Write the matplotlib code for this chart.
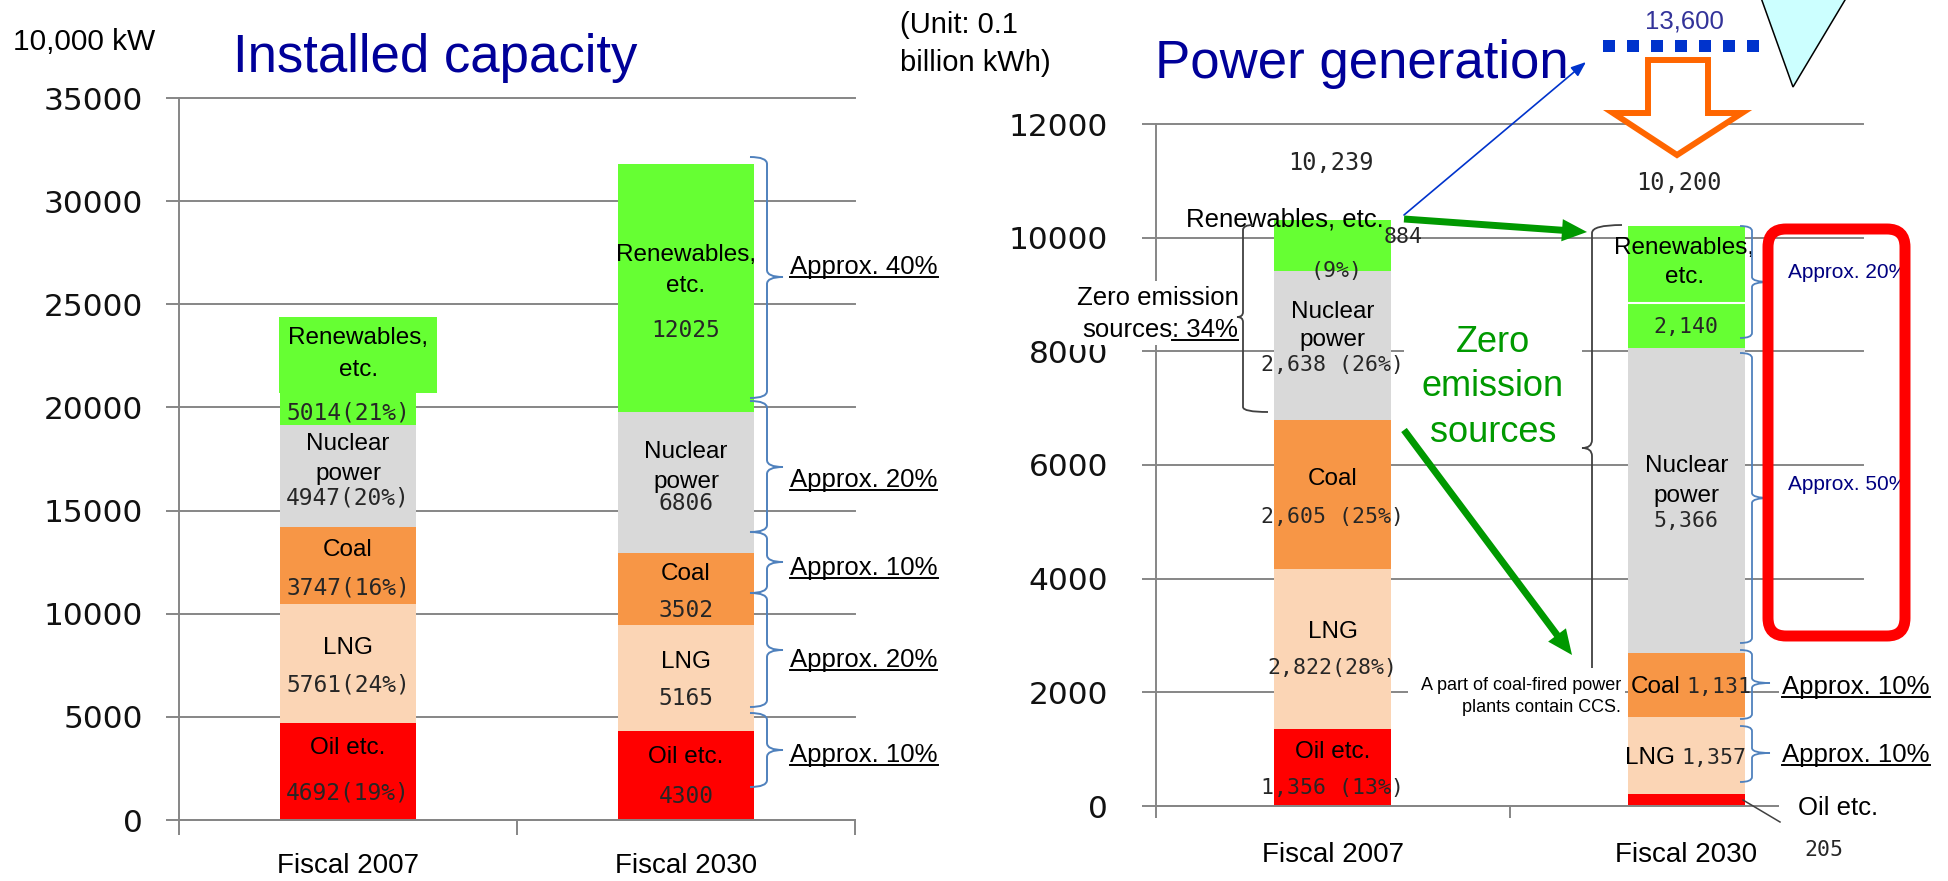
import numpy as np
import matplotlib
matplotlib.use("Agg")
import matplotlib.pyplot as plt
import matplotlib.transforms as mtransforms
from matplotlib.patches import Rectangle, Polygon, FancyBboxPatch, PathPatch, FancyArrowPatch, ArrowStyle
from matplotlib.path import Path
from matplotlib.lines import Line2D

# ---------------- data ----------------
categories = ["Fiscal 2007", "Fiscal 2030"]
source_names = ["Oil etc.", "LNG", "Coal", "Nuclear power", "Renewables, etc."]
source_colors = ["#FF0000", "#FBD5B5", "#F79646", "#D9D9D9", "#66FF33"]

# Installed capacity (10,000 kW)
cap_oil = [4692, 4300]
cap_lng = [5761, 5165]
cap_coal = [3747, 3502]
cap_nuclear = [4947, 6806]
cap_renew = [5014, 12025]
cap_labels_2007 = ["4692(19%)", "5761(24%)", "3747(16%)", "4947(20%)", "5014(21%)"]
cap_labels_2030 = ["4300", "5165", "3502", "6806", "12025"]
cap_ticks = [0, 5000, 10000, 15000, 20000, 25000, 30000, 35000]
cap_shares_2030 = ["Approx. 40%", "Approx. 20%", "Approx. 10%", "Approx. 20%", "Approx. 10%"]

# Power generation (0.1 billion kWh)
gen_oil = [1356, 205]
gen_lng = [2822, 1357]
gen_coal = [2605, 1131]
gen_nuclear = [2638, 5366]
gen_renew = [884, 2140]
gen_totals = ["10,239", "10,200"]
gen_labels_2007 = ["1,356 (13%)", "2,822(28%)", "2,605 (25%)", "2,638 (26%)", "884", "(9%)"]
gen_labels_2030 = ["205", "1,357", "1,131", "5,366", "2,140"]
gen_ticks = [0, 2000, 4000, 6000, 8000, 10000, 12000]
gen_shares_2030 = ["Approx. 20%", "Approx. 50%", "Approx. 10%", "Approx. 10%"]
target_2030 = "13,600"

# ---------------- style ----------------
W, H, DPI = 1948, 881, 100
SANS = "Liberation Sans"
MONO = "DejaVu Sans Mono"
TICKF = "DejaVu Sans"
GRID = "#868686"
NAVY = "#000099"
BRACE = "#4F81BD"
DARK = "#404040"
GREEN = "#009900"
VALC = "#262626"

fig = plt.figure(figsize=(W / DPI, H / DPI), dpi=DPI)
fig.patch.set_facecolor("white")
# pixel transform (x right, y down) in figure space
PX = mtransforms.Affine2D().scale(1.0 / W, -1.0 / H).translate(0, 1) + fig.transFigure

ax1 = fig.add_axes([179 / W, 1 - 820 / H, 676 / W, 722 / H])
ax2 = fig.add_axes([1156 / W, 1 - 806 / H, 707 / W, 682 / H])


def style_axes(ax, ticks, ytick_len, ytick_pad, xlab_pad, xminor_len):
    ax.set_xlim(-0.5, 1.5)
    ax.set_ylim(ticks[0], ticks[-1])
    for s in ("top", "right"):
        ax.spines[s].set_visible(False)
    for s in ("left", "bottom"):
        ax.spines[s].set_color(GRID)
        ax.spines[s].set_linewidth(1.4)
    ax.set_yticks(ticks)
    ax.set_yticklabels([str(t) for t in ticks], fontsize=22.5, fontfamily=TICKF, color="#111111")
    ax.tick_params(axis="y", length=ytick_len * 0.72, width=1.4, color=GRID, pad=ytick_pad * 0.72)
    ax.yaxis.grid(True, color=GRID, linewidth=1.4)
    for gl in ax.get_ygridlines():
        gl.set_clip_on(False)
    ax.set_axisbelow(True)
    ax.set_xticks([0, 1])
    ax.set_xticklabels(categories, fontsize=20, fontfamily=SANS, color="black")
    ax.tick_params(axis="x", which="major", length=0, pad=xlab_pad * 0.72)
    ax.set_xticks([-0.5, 0.5, 1.5], minor=True)
    ax.tick_params(axis="x", which="minor", length=xminor_len * 0.72, width=1.4, color=GRID)


def stacked(ax, layers, width):
    x = np.arange(len(categories))
    bottom = np.zeros(len(categories))
    for vals, color in zip(layers, source_colors):
        ax.bar(x, vals, width, bottom=bottom, color=color, edgecolor="none", zorder=2)
        bottom = bottom + np.asarray(vals, dtype=float)
    return bottom


stacked(ax1, [cap_oil, cap_lng, cap_coal, cap_nuclear, cap_renew], 0.40)
stacked(ax2, [gen_oil, gen_lng, gen_coal, gen_nuclear, gen_renew], 0.331)
style_axes(ax1, cap_ticks, 13, 23, 33, 15)
style_axes(ax2, gen_ticks, 14, 34, 36, 12)

STY = {
    "name": dict(fontfamily=SANS, fontsize=17.5, color="black"),
    "val": dict(fontfamily=MONO, fontsize=16.5, color=VALC),
    "valr": dict(fontfamily=MONO, fontsize=15.5, color=VALC),
    "tot": dict(fontfamily=MONO, fontsize=17, color=VALC),
    "ren": dict(fontfamily=SANS, fontsize=18.5, color="black"),
}

# label layout: (x, y in data units, text, style, ha)
cap_text_layout = [
    (0.03, 23365, "Renewables,", "name", "center"),
    (0.03, 21815, "etc.", "name", "center"),
    (0.0, 19730, cap_labels_2007[4], "val", "center"),
    (0.0, 18227, "Nuclear", "name", "center"),
    (0.0, 16773, "power", "name", "center"),
    (0.0, 15610, cap_labels_2007[3], "val", "center"),
    (0.0, 13089, "Coal", "name", "center"),
    (0.0, 11247, cap_labels_2007[2], "val", "center"),
    (0.0, 8338, "LNG", "name", "center"),
    (0.0, 6544, cap_labels_2007[1], "val", "center"),
    (0.0, 3490, "Oil etc.", "name", "center"),
    (0.0, 1309, cap_labels_2007[0], "val", "center"),
    (1.0, 27390, "Renewables,", "name", "center"),
    (1.0, 25886, "etc.", "name", "center"),
    (1.0, 23753, cap_labels_2030[4], "val", "center"),
    (1.0, 17840, "Nuclear", "name", "center"),
    (1.0, 16385, "power", "name", "center"),
    (1.0, 15367, cap_labels_2030[3], "val", "center"),
    (1.0, 11925, "Coal", "name", "center"),
    (1.0, 10180, cap_labels_2030[2], "val", "center"),
    (1.0, 7659, "LNG", "name", "center"),
    (1.0, 5914, cap_labels_2030[1], "val", "center"),
    (1.0, 3054, "Oil etc.", "name", "center"),
    (1.0, 1115, cap_labels_2030[0], "val", "center"),
]

gen_text_layout = [
    (-0.005, 11314, gen_totals[0], "tot", "center"),
    (-0.135, 10328, "Renewables, etc.", "ren", "center"),
    (0.2, 10010, gen_labels_2007[4], "valr", "center"),
    (0.01, 9413, gen_labels_2007[5], "valr", "center"),
    (0.0, 8692, "Nuclear", "name", "center"),
    (0.0, 8199, "power", "name", "center"),
    (0.0, 7760, gen_labels_2007[3], "valr", "center"),
    (0.0, 5754, "Coal", "name", "center"),
    (0.0, 5085, gen_labels_2007[2], "valr", "center"),
    (0.0, 3062, "LNG", "name", "center"),
    (0.0, 2428, gen_labels_2007[1], "valr", "center"),
    (0.0, 950, "Oil etc.", "name", "center"),
    (0.0, 317, gen_labels_2007[0], "valr", "center"),
    (0.98, 10962, gen_totals[1], "tot", "center"),
    (0.994, 9818, "Renewables,", "name", "center"),
    (0.994, 9308, "etc.", "name", "center"),
    (1.0, 8428, gen_labels_2030[4], "valr", "center"),
    (1.0, 5982, "Nuclear", "name", "center"),
    (1.0, 5455, "power", "name", "center"),
    (1.0, 5015, gen_labels_2030[3], "valr", "center"),
    (0.985, 2094, "Coal", "name", "right"),
    (0.999, 2094, gen_labels_2030[2], "valr", "left"),
    (0.968, 845, "LNG", "name", "right"),
    (0.985, 845, gen_labels_2030[1], "valr", "left"),
    (1.39, -774, gen_labels_2030[0], "valr", "center"),
]

for ax, layout in ((ax1, cap_text_layout), (ax2, gen_text_layout)):
    for x, y, s, st, ha in layout:
        ax.text(x, y, s, ha=ha, va="center", zorder=5, clip_on=False, **STY[st])

# green label box of 2007 renewables (capacity) and separator in 2030 generation bar
ax1.add_artist(Rectangle((279, 317), 158, 76, transform=PX, facecolor="#66FF33",
                         edgecolor="none", zorder=3, clip_on=False))
ax2.add_artist(Line2D([1625, 1746], [303, 303], transform=PX, color="white", lw=1.5,
                      zorder=3, clip_on=False))


def ftext(x, y, s, **kw):
    kw.setdefault("transform", PX)
    kw.setdefault("zorder", 6)
    return fig.text(x, y, s, **kw)


def frect(x0, y0, x1, y1, color="white", z=4):
    fig.add_artist(Rectangle((x0, y0), x1 - x0, y1 - y0, transform=PX, facecolor=color,
                             edgecolor="none", zorder=z))


def brace(x, y0, y1, ym, dx_top, dx_bot, dx_tip, r, color, lw, z=5):
    verts = [(x + dx_top, y0), (x, y0), (x, y0 + r), (x, ym - r), (x, ym), (x + dx_tip, ym),
             (x, ym), (x, ym + r), (x, y1 - r), (x, y1), (x + dx_bot, y1)]
    codes = [Path.MOVETO, Path.CURVE3, Path.CURVE3, Path.LINETO, Path.CURVE3, Path.CURVE3,
             Path.CURVE3, Path.CURVE3, Path.LINETO, Path.CURVE3, Path.CURVE3]
    fig.add_artist(PathPatch(Path(verts, codes), transform=PX, fill=False, edgecolor=color,
                             lw=lw, zorder=z))


underlined = []

# ---------- titles / units ----------
ftext(13, 42, "10,000 kW", fontfamily=SANS, fontsize=21.5, ha="left", va="center")
ftext(233, 72, "Installed capacity", fontfamily=SANS, fontsize=38, color=NAVY, ha="left", va="baseline")
ftext(900, 25, "(Unit: 0.1", fontfamily=SANS, fontsize=21, ha="left", va="center")
ftext(900, 63, "billion kWh)", fontfamily=SANS, fontsize=21, ha="left", va="center")
ftext(1155, 78, "Power generation", fontfamily=SANS, fontsize=38, color=NAVY, ha="left", va="baseline")

# ---------- capacity braces and shares ----------
cap_brace_spans = [(157, 398, 277), (401, 532, 467), (532, 593, 562), (593, 707, 650), (713, 787, 750)]
cap_share_y = [267, 480, 568, 660, 755]
for (y0, y1, ym), ty, s in zip(cap_brace_spans, cap_share_y, cap_shares_2030):
    brace(767, y0, y1, ym, -17, -17, 16, 7, BRACE, 1.4)
    underlined.append(ftext(790, ty, s, fontfamily=SANS, fontsize=18.5, ha="left", va="center"))

# ---------- generation: annotations ----------
# target 13,600 dashed line, down arrow, triangle
ftext(1684, 22, target_2030, fontfamily=SANS, fontsize=18.5, color="#333399", ha="center", va="center")
fig.add_artist(Line2D([1603, 1759], [46, 46], transform=PX, color="#0033CC", lw=8.64,
                      dashes=(1, 1), dash_capstyle="butt", solid_capstyle="butt", zorder=5))
fig.add_artist(Polygon([(1648, 60), (1708, 60), (1708, 113), (1742, 113), (1677, 155),
                        (1613, 113), (1648, 113)], closed=True, transform=PX,
                       facecolor="white", edgecolor="#FF6600", lw=4.3, joinstyle="miter", zorder=5))
fig.add_artist(Polygon([(1760, -5), (1848, -5), (1793, 87)], closed=True, transform=PX,
                       facecolor="#CCFFFF", edgecolor="black", lw=1.1, zorder=5))

# Zero emission sources: 34% (2007)
frect(1066, 281, 1243, 345)
ftext(1158, 298, "Zero emission", fontfamily=SANS, fontsize=18.5, ha="center", va="center")
ftext(1172, 330, "sources", fontfamily=SANS, fontsize=18.5, ha="right", va="center")
underlined.append(ftext(1172, 330, ": 34%", fontfamily=SANS, fontsize=18.5, ha="left", va="center"))
brace(1243, 225, 412, 317, 10, 25, -6, 5, DARK, 1.3, z=6)

# Zero emission sources (green text)
frect(1404, 318, 1582, 455)
for yy, s in zip([342, 387, 432], ["Zero", "emission", "sources"]):
    ftext(1493, yy, s, fontfamily=SANS, fontsize=26, color=GREEN, ha="center", va="center")

# big brace for 2030 zero emission group
brace(1592, 225, 668, 448, 30, 0, -10, 8, DARK, 1.3)

# CCS note
frect(1408, 667, 1625, 719)
ftext(1621, 685, "A part of coal-fired power", fontfamily=SANS, fontsize=13, ha="right", va="center")
ftext(1621, 707, "plants contain CCS.", fontfamily=SANS, fontsize=13, ha="right", va="center")

# arrows
fig.add_artist(FancyArrowPatch((1404, 215), (1586, 62), transform=PX,
                               arrowstyle=ArrowStyle("-|>", head_length=9, head_width=3.5),
                               mutation_scale=1, color="#0033CC", lw=1.2, shrinkA=0, shrinkB=0, zorder=7))
green_style = ArrowStyle("simple", head_length=18, head_width=16, tail_width=5)
for p0, p1 in (((1404, 219), (1587, 232)), ((1404, 430), (1572, 655))):
    fig.add_artist(FancyArrowPatch(p0, p1, transform=PX, arrowstyle=green_style, mutation_scale=1,
                                   facecolor=GREEN, edgecolor="none", lw=0, shrinkA=0, shrinkB=0, zorder=7))

# 2030 generation braces and shares
gen_brace_spans = [(226, 338, 282), (353, 643, 498), (650, 719, 683), (726, 782, 753)]
for y0, y1, ym in gen_brace_spans:
    brace(1752, y0, y1, ym, -12, -12, 18, 5, BRACE, 1.3)

ftext(1788, 273, gen_shares_2030[0], fontfamily=SANS, fontsize=15, color="#000080", ha="left", va="center", zorder=5)
ftext(1788, 485, gen_shares_2030[1], fontfamily=SANS, fontsize=15, color="#000080", ha="left", va="center", zorder=5)
for ty, s in zip([687, 755], gen_shares_2030[2:]):
    underlined.append(ftext(1782, ty, s, fontfamily=SANS, fontsize=18.5, ha="left", va="center",
                            bbox=dict(boxstyle="square,pad=0.1", facecolor="white", edgecolor="none")))

# red rounded box
fig.add_artist(FancyBboxPatch((1768, 229), 137, 407, boxstyle="round,pad=0,rounding_size=18",
                              transform=PX, facecolor="none", edgecolor="#FF0000", lw=7.9, zorder=8))

# Oil etc. 2030 callout
frect(1779, 793, 1890, 826, z=5)
fig.add_artist(Line2D([1743, 1780], [800, 822], transform=PX, color=DARK, lw=1.1, zorder=6))
ftext(1798, 808, "Oil etc.", fontfamily=SANS, fontsize=18.5, ha="left", va="center")

# underlines
fig.canvas.draw()
renderer = fig.canvas.get_renderer()
for t in underlined:
    bb = t.get_window_extent(renderer)
    fs_px = t.get_fontsize() * DPI / 72.0
    yy = bb.y0 + 0.09 * fs_px
    fig.add_artist(Line2D([bb.x0, bb.x1], [yy, yy], transform=mtransforms.IdentityTransform(),
                          color="black", lw=1.4, zorder=9))

fig.savefig("out.png", dpi=DPI, facecolor="white")
